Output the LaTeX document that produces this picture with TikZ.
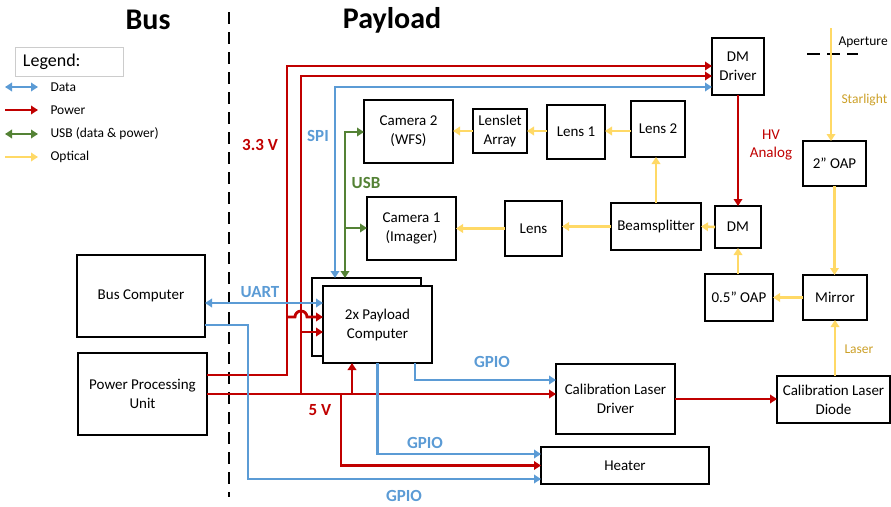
\documentclass[tikz,border=0pt]{standalone}
\usepackage{fontspec}
\setmainfont{Carlito}
\usetikzlibrary{arrows.meta,positioning}
\definecolor{datablue}{RGB}{91,155,213}
\definecolor{powerred}{RGB}{192,0,0}
\definecolor{usbgreen}{RGB}{84,130,53}
\definecolor{optyellow}{RGB}{255,217,102}
\definecolor{optgold}{RGB}{204,160,40}
\tikzset{
    block/.style={draw, line width=1.3pt, fill=white, align=center, inner sep=1pt, outer sep=0pt,
        font=\fontsize{15}{19}\selectfont},
    wh/.style 2 args={minimum width=#1pt, minimum height=#2pt},
    head/.tip={Triangle[length=7pt,width=8.5pt]},
    power/.style={draw=powerred, line width=2.8pt, -head},
    data/.style={draw=datablue, line width=2.8pt, -head},
    data2/.style={data, head-head},
    usb/.style={draw=usbgreen, line width=2.8pt, -head},
    usb2/.style={usb, head-head},
    optic/.style={draw=optyellow, line width=2.6pt, -head},
    tag/.style={font=\bfseries\fontsize{17}{20}\selectfont},
    note/.style={font=\fontsize{13.5}{16}\selectfont}
}

\begin{document}
\begin{tikzpicture}[x=1pt, y=-1pt]
    \useasboundingbox (0,0) rectangle (891,506);

    \node[font=\bfseries\fontsize{30}{34}\selectfont] (bus) at (148,20) {Bus};
    \node[font=\bfseries\fontsize{30}{34}\selectfont] (payload) at (392,20) {Payload};
    \draw[line width=2.6pt, dash pattern=on 12pt off 8pt] (229,12) -- (229,497);

    \node[draw=black!20, line width=0.8pt, text width=92pt, inner xsep=8pt, minimum height=29pt,
        align=left, font=\fontsize{18}{20}\selectfont] (legend) at (69,61.5) {Legend:};
    \foreach \y/\kind/\name [count=\i] in {87/data2/Data, 110/power/Power,
            134/usb2/{USB (data \& power)}, 157/optic/Optical}{
        \node[note, anchor=west] (leg\i) at (47,\y) {\name};
        \draw[\kind] (5,\y) -- ([xshift=-9pt]leg\i.west);
    }

    \node[block, wh={128}{82}] (buscomp) at (141,296) {Bus Computer};
    \node[block, wh={129}{82}] (ppu) at (142.5,394) {Power Processing\\Unit};
    \node[block, wh={109}{78}] (pcback) at (366.5,317) {};
    \node[block, wh={109}{77}] (pc) at (377.5,324.5) {2x Payload\\Computer};
    \node[block, wh={89}{63}] (cam2) at (408.5,131.5) {Camera 2\\(WFS)};
    \node[block, wh={89}{63}] (cam1) at (411.5,228.5) {Camera 1\\(Imager)};
    \node[block, wh={54}{44}] (lenslet) at (500,131) {Lenslet\\Array};
    \node[block, wh={58}{54}] (lens1) at (576,132) {Lens 1};
    \node[block, wh={54}{56}] (lens2) at (658,129) {Lens 2};
    \node[block, wh={52}{57}] (dmdriver) at (738,66.5) {DM\\Driver};
    \node[block, wh={90}{47}] (bsplit) at (656,226.5) {Beamsplitter};
    \node[block, wh={57}{55}] (lens) at (533.5,228.5) {Lens};
    \node[block, wh={46}{42}] (dm) at (738,227) {DM};
    \node[block, wh={63}{45}] (oaptwo) at (834.5,163.5) {2” OAP};
    \node[block, wh={68}{47}] (oaphalf) at (739,297.5) {0.5” OAP};
    \node[block, wh={64}{45}] (mirror) at (835,297.5) {Mirror};
    \node[block, wh={119}{70}] (cldriver) at (615.5,399) {Calibration Laser\\Driver};
    \node[block, wh={113}{47}] (cldiode) at (833.5,399.5) {Calibration Laser\\Diode};
    \node[block, wh={168}{37}] (heater) at (625,465.5) {Heater};

    \draw[power] (ppu.east |- 0,375) -| (287,66) -- (dmdriver.west |- 0,66);
    \draw[power] (ppu.east) -- (cldriver.west |- ppu.east);
    \draw[power] (301,394) |- (dmdriver.west |- 0,76);
    \draw[power] (301,332) -- (pc.west |- 0,332);
    \draw[power] (287,317) -- (295,317) arc[start angle=180, end angle=0, radius=6pt] -- (pc.west |- 0,317);
    \draw[power] (352,394) -- (pc.south -| 352,0);
    \draw[power] (341,394) |- (heater.west);
    \draw[power] (cldriver.east) -- (cldiode.west |- cldriver.east);
    \draw[power] (dmdriver.south) -- (dm.north);

    \draw[data2] (dmdriver.west |- 0,87) -| (pcback.north -| 335,0);
    \draw[data2] (buscomp.east |- 0,303) -- (pc.west |- 0,303);
    \draw[data] (pc.south -| 415,0) |- (cldriver.west |- 0,380);
    \draw[data] (pc.south) |- (heater.west |- 0,454);
    \draw[data] (buscomp.east |- 0,325) -| (248,479) -- (heater.west |- 0,479);

    \draw[usb2] (pcback.north -| 345,0) |- (cam2.west |- 0,132);
    \draw[usb] (345,228) -- (cam1.west |- 0,228);

    \coordinate (sky) at (831,28);
    \draw[line width=2.6pt, dash pattern=on 13pt off 7pt] (807,54) -- (858,54);
    \draw[optic] (sky) -- (sky |- oaptwo.north);
    \draw[optic] (oaptwo.south) -- (oaptwo.south |- mirror.north);
    \draw[optic] (mirror.west) -- (oaphalf.east);
    \draw[optic] (dm.south |- oaphalf.north) -- (dm.south);
    \draw[optic] (dm.west) -- (bsplit.east);
    \draw[optic] (bsplit.west) -- (lens.east |- bsplit.west);
    \draw[optic] (lens.west) -- (cam1.east);
    \draw[optic] (bsplit.north) -- (bsplit.north |- lens2.south);
    \draw[optic] (lens2.west |- 0,131) -- (lens1.east |- 0,131);
    \draw[optic] (lens1.west |- 0,131) -- (lenslet.east |- 0,131);
    \draw[optic] (lenslet.west |- 0,131) -- (cam2.east |- 0,131);
    \draw[optic] (mirror.south |- cldiode.north) -- (mirror.south);

    \node[tag, text=powerred] (lvolt) at (260,145) {3.3 V};
    \node[tag, text=powerred] (lfive) at (320,410) {5 V};
    \node[tag, text=datablue] (lspi) at (318,136) {SPI};
    \node[tag, text=usbgreen] (lusb) at (366,183) {USB};
    \node[tag, text=datablue] (luart) at (260,292) {UART};
    \node[tag, text=datablue] (lgpioa) at (492,362) {GPIO};
    \node[tag, text=datablue] (lgpiob) at (425,443) {GPIO};
    \node[tag, text=datablue] (lgpioc) at (404,496) {GPIO};
    \node[font=\fontsize{15}{18}\selectfont, text=powerred, align=center] (lhv) at (771,145) {HV\\Analog};
    \node[note, text=optgold, anchor=west] (lstar) at (838,100) {Starlight};
    \node[note, text=optgold, anchor=west] (llaser) at (841,349) {Laser};
    \node[note, anchor=west] (lap) at (835,42) {Aperture};
\end{tikzpicture}
\end{document}
